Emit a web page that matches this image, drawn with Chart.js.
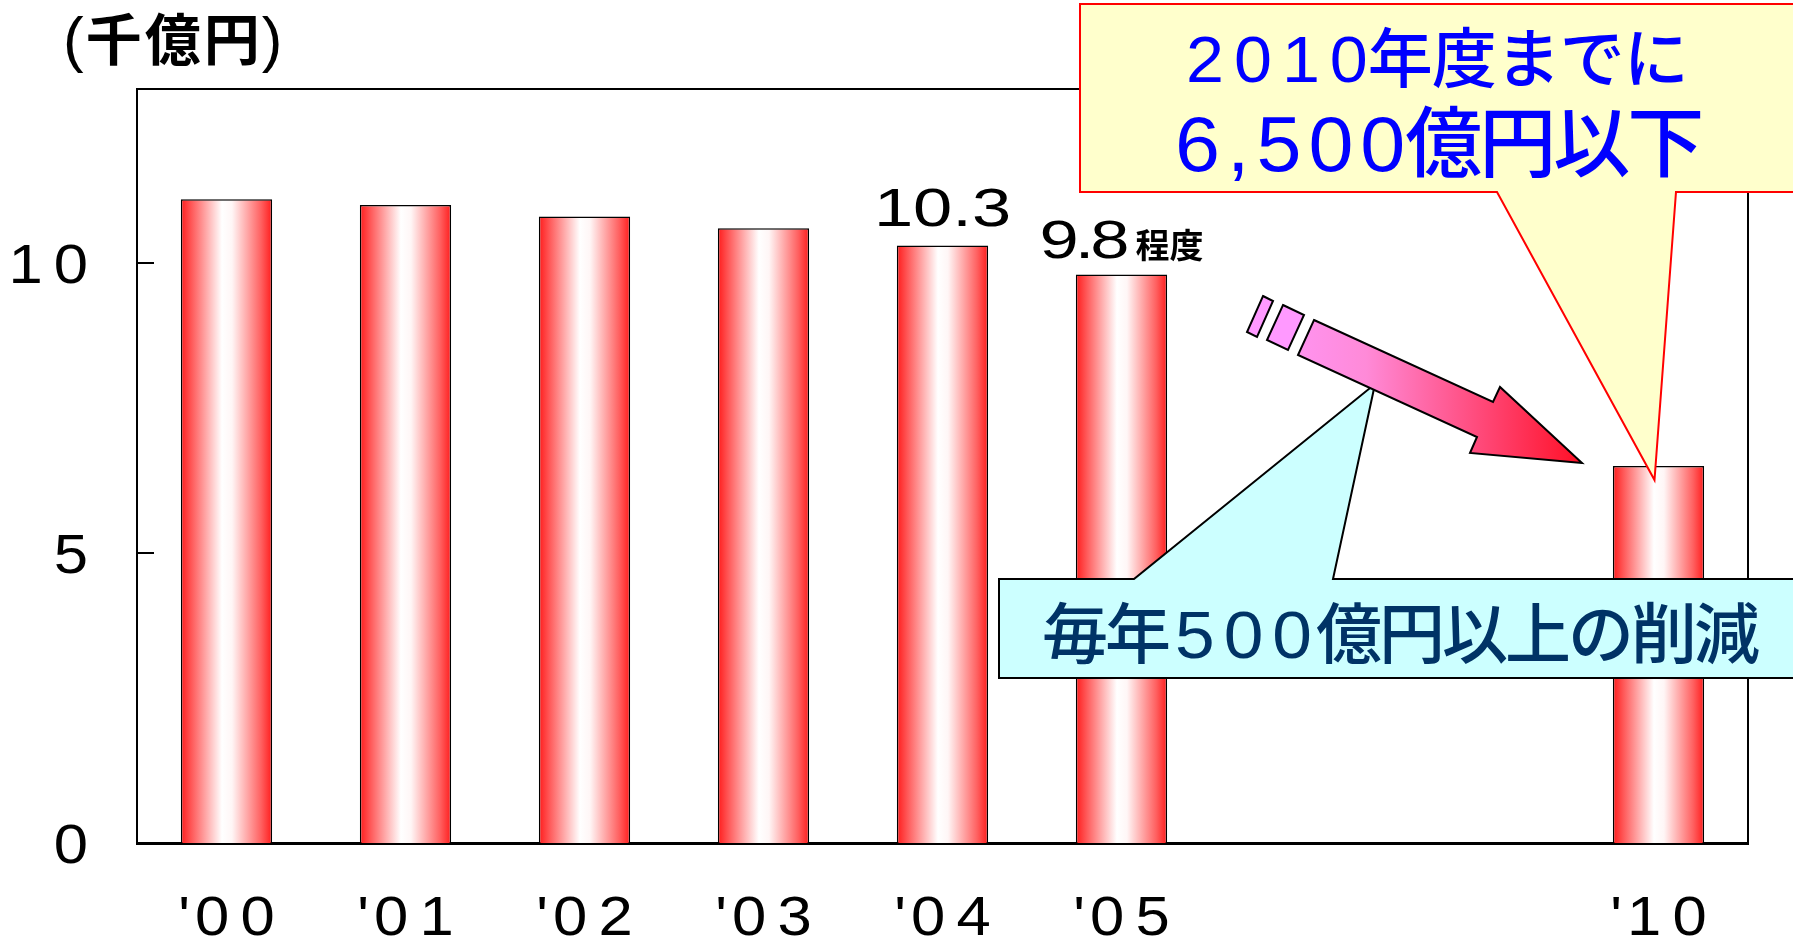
<!DOCTYPE html>
<html lang="ja">
<head>
  <meta charset="UTF-8" />
  <title>千億円 推移</title>
  <script src="https://cdn.jsdelivr.net/npm/chart.js"></script>
  <style>
    body { margin: 0; background: #fff; }
    canvas { display: block; }
  </style>
</head>
<body>
  <canvas id="costChart" width="1793" height="938"></canvas>

  <script>
    // 年度と金額（千億円）。'06〜'09 は空欄
    const years = ["'00", "'01", "'02", "'03", "'04", "'05", "", "", "'10"];
    const amounts = [11.1, 11.0, 10.8, 10.6, 10.3, 9.8, null, null, 6.5];
    const yTickValues = [0, 5, 10];
    const yMax = 13;

    // 値ラベルを付ける年度と添え字
    const labelledIndex = [4, 5];
    const labelSuffix = ['', '程度'];
    const labelLift = [20, 17];

    const unitText = ['(', '千億円', ')'];
    const targetLines = [['2010', '年度までに'], ['6,500', '億円以下']];
    const reductionText = ['毎年', '500', '億円以上の削減'];

    const LATIN = '"Liberation Sans", Arial, sans-serif';
    const CJK = '"Noto Sans CJK JP", sans-serif';
    const BAR_PCT = 0.51;

    // 文字を1字ずつ描く（横倍率 sx・字間 ls・後ろの空き after）
    function runsWidth(ctx, runs) {
      let w = 0;
      runs.forEach(r => {
        ctx.font = r.font;
        const chars = [...r.text];
        chars.forEach((ch, i) => {
          w += ctx.measureText(ch).width * (r.sx || 1);
          if (i < chars.length - 1) w += r.ls || 0;
        });
        w += r.after || 0;
      });
      return w;
    }

    function drawRuns(ctx, runs, x, y, align, color) {
      const w = runsWidth(ctx, runs);
      let cx = align === 'center' ? x - w / 2 : align === 'right' ? x - w : x;
      ctx.fillStyle = color || '#000';
      ctx.textAlign = 'left';
      ctx.textBaseline = 'alphabetic';
      runs.forEach(r => {
        ctx.font = r.font;
        const chars = [...r.text];
        chars.forEach((ch, i) => {
          const cw = ctx.measureText(ch).width * (r.sx || 1);
          ctx.save();
          ctx.translate(cx, y);
          ctx.scale(r.sx || 1, 1);
          ctx.fillText(ch, 0, 0);
          ctx.restore();
          cx += cw;
          if (i < chars.length - 1) cx += r.ls || 0;
        });
        cx += r.after || 0;
      });
    }

    function polygon(ctx, pts) {
      ctx.beginPath();
      pts.forEach(([px, py], i) => (i ? ctx.lineTo(px, py) : ctx.moveTo(px, py)));
      ctx.closePath();
    }

    // 棒の横グラデーション（赤→白→赤）
    function barFill(context) {
      const chart = context.chart;
      const xs = chart.scales.x;
      if (!chart.chartArea || !xs || context.type !== 'data') return '#ff2020';
      const cx = xs.getPixelForValue(context.dataIndex);
      const half = (xs.width / years.length) * BAR_PCT / 2;
      const g = chart.ctx.createLinearGradient(cx - half, 0, cx + half, 0);
      g.addColorStop(0, '#ff1c1c');
      g.addColorStop(0.12, '#ff5a5a');
      g.addColorStop(0.45, '#ffffff');
      g.addColorStop(0.56, '#fff6f6');
      g.addColorStop(0.88, '#ff6060');
      g.addColorStop(1, '#ff1c1c');
      return g;
    }

    const decorations = {
      id: 'decorations',
      afterDraw(chart) {
        const { ctx, chartArea: a, scales: { x, y } } = chart;
        ctx.save();

        // 上・右の枠と内向き目盛り
        ctx.strokeStyle = '#000';
        ctx.lineWidth = 2;
        ctx.beginPath();
        ctx.moveTo(a.left, a.top);
        ctx.lineTo(a.right, a.top);
        ctx.lineTo(a.right, a.bottom);
        ctx.stroke();

        y.ticks.forEach(t => {
          const py = y.getPixelForValue(t.value);
          if (t.value > 0) {
            ctx.beginPath();
            ctx.moveTo(a.left, py);
            ctx.lineTo(a.left + 17, py);
            ctx.stroke();
          }
          drawRuns(ctx, [{ text: String(t.value), font: `56px ${LATIN}`, sx: 1.1, ls: 11 }], a.left - 49, py + 20, 'right');
        });

        years.forEach((lab, i) => {
          if (!lab) return;
          drawRuns(ctx, [
            { text: lab.slice(0, 1), font: `56px ${LATIN}`, sx: 1.1, after: 5 },
            { text: lab.slice(1), font: `56px ${LATIN}`, sx: 1.1, ls: 11 }
          ], x.getPixelForValue(i), 935, 'center');
        });

        // 単位
        drawRuns(ctx, [
          { text: unitText[0], font: `62px ${LATIN}`, after: 2 },
          { text: unitText[1], font: `bold 56px ${CJK}`, ls: 3, after: 2 },
          { text: unitText[2], font: `62px ${LATIN}` }
        ], 63, 60, 'left');

        // 値ラベル
        const meta = chart.getDatasetMeta(0);
        labelledIndex.forEach((idx, k) => {
          const bar = meta.data[idx];
          const runs = [{ text: String(amounts[idx]), font: `53px ${LATIN}`, sx: 1.33, ls: labelSuffix[k] ? -4 : 0, after: labelSuffix[k] ? 6 : 0 }];
          if (labelSuffix[k]) runs.push({ text: labelSuffix[k], font: `bold 34px ${CJK}` });
          drawRuns(ctx, runs, bar.x, bar.y - labelLift[k], 'center');
        });

        ctx.lineJoin = 'miter';

        // 吹き出し（毎年の削減）
        ctx.fillStyle = '#ccffff';
        ctx.strokeStyle = '#000';
        ctx.lineWidth = 2;
        polygon(ctx, [[999, 579], [1134, 579], [1375, 384], [1333, 579], [1800, 579], [1800, 678], [999, 678]]);
        ctx.fill();
        ctx.stroke();
        drawRuns(ctx, [
          { text: reductionText[0], font: `500 66px ${CJK}`, ls: -3, after: 4 },
          { text: reductionText[1], font: `66px ${LATIN}`, sx: 1.08, ls: 9, after: 4 },
          { text: reductionText[2], font: `500 66px ${CJK}`, ls: -3 }
        ], 1042, 658, 'left', '#003366');

        // 矢印
        const grad = ctx.createLinearGradient(1250, 0, 1582, 0);
        grad.addColorStop(0, '#ff99ff');
        grad.addColorStop(0.35, '#ff8ad8');
        grad.addColorStop(1, '#ff0f25');
        ctx.fillStyle = '#ff99ff';
        polygon(ctx, [[1263, 296], [1273, 301], [1257, 337], [1247, 332]]);
        ctx.fill();
        ctx.stroke();
        polygon(ctx, [[1283, 305], [1304, 315], [1288, 350], [1267, 340]]);
        ctx.fill();
        ctx.stroke();
        ctx.fillStyle = grad;
        polygon(ctx, [[1314, 320], [1493, 402], [1500, 387], [1582, 463], [1470, 453], [1477, 437], [1298, 355]]);
        ctx.fill();
        ctx.stroke();

        // 吹き出し（2010年度目標）
        const tipX = x.getPixelForValue(8) - 4;
        const tipY = y.getPixelForValue(amounts[8]) + 14;
        ctx.fillStyle = '#ffffcc';
        ctx.strokeStyle = '#ff0000';
        polygon(ctx, [[1080, 4], [1800, 4], [1800, 192], [1676, 192], [tipX, tipY], [1497, 192], [1080, 192]]);
        ctx.fill();
        ctx.stroke();
        drawRuns(ctx, [
          { text: targetLines[0][0], font: `65px ${LATIN}`, sx: 1.05, ls: 10 },
          { text: targetLines[0][1], font: `500 65px ${CJK}`, ls: -1 }
        ], 1186, 82, 'left', '#0000ff');
        drawRuns(ctx, [
          { text: targetLines[1][0], font: `77px ${LATIN}`, sx: 1.05, ls: 7 },
          { text: targetLines[1][1], font: `500 77px ${CJK}`, ls: -3 }
        ], 1175, 171, 'left', '#0000ff');

        ctx.restore();
      }
    };

    new Chart(document.getElementById('costChart'), {
      type: 'bar',
      data: {
        labels: years,
        datasets: [{
          data: amounts,
          backgroundColor: barFill,
          borderColor: '#000',
          borderWidth: 1.5,
          categoryPercentage: 1,
          barPercentage: BAR_PCT
        }]
      },
      options: {
        responsive: false,
        animation: false,
        layout: { padding: { top: 89, right: 45, left: 0, bottom: 0 } },
        plugins: { legend: { display: false }, tooltip: { enabled: false } },
        scales: {
          x: {
            grid: { display: false, drawTicks: false },
            border: { display: true, color: '#000', width: 3 },
            ticks: { display: false },
            afterFit: s => { s.height = 95; }
          },
          y: {
            min: 0,
            max: yMax,
            grid: { display: false, drawTicks: false },
            border: { display: true, color: '#000', width: 2 },
            ticks: { display: false },
            afterBuildTicks: s => { s.ticks = yTickValues.map(v => ({ value: v })); },
            afterFit: s => { s.width = 137; }
          }
        }
      },
      plugins: [decorations]
    });
  </script>
</body>
</html>
